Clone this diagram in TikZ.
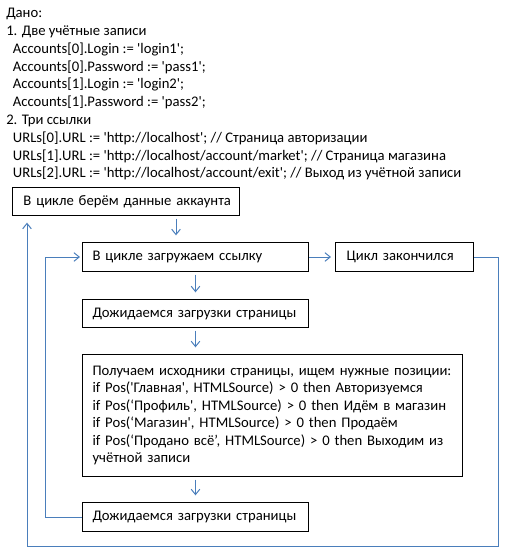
\documentclass[tikz,border=0pt]{standalone}
\usepackage{fontspec}
\setmainfont{Carlito}[Ligatures=TeXOff]
\usetikzlibrary{arrows.meta, positioning}
\definecolor{flowblue}{RGB}{74, 126, 187}
\tikzset{
  stepbox/.style={draw=black, line width=0.75pt, anchor=north west, align=left, inner xsep=7.5pt, inner ysep=0pt, font=\fontsize{11}{13.1}\selectfont},
  giventext/.style={anchor=north west, align=left, inner sep=0pt, font=\fontsize{11}{13.35}\selectfont},
  arr/.style={-{Straight Barb[length=4pt, width=6.5pt]}, line width=0.75pt, flowblue, shorten >=3pt}
}

\begin{document}
\begin{tikzpicture}[x=0.75pt, y=-0.75pt]
\useasboundingbox (0,0) rectangle (508,557);
\node[giventext] (given) at (6,8) {Дано:\\
1. Две учётные записи\\
\hspace*{5pt}Accounts[0].Login := 'login1';\\
\hspace*{5pt}Accounts[0].Password := 'pass1';\\
\hspace*{5pt}Accounts[1].Login := 'login2';\\
\hspace*{5pt}Accounts[1].Password := 'pass2';\\
2. Три ссылки\\
\hspace*{5pt}URLs[0].URL := 'http://localhost'; // Страница авторизации\\
\hspace*{5pt}URLs[1].URL := 'http://localhost/account/market'; // Страница магазина\\
\hspace*{5pt}URLs[2].URL := 'http://localhost/account/exit'; // Выход из учётной записи};
\node[stepbox, inner xsep=8.25pt, text width=153.75pt, minimum height=21pt] (b1) at (12,187) {\mbox{В цикле берём данные аккаунта}};
\node[stepbox, text width=154.5pt, minimum height=21.75pt] (b2) at (82,242) {В цикле загружаем ссылку};
\node[stepbox, inner xsep=8.25pt, text width=87pt, minimum height=21.75pt, right=19.5pt of b2] (b3) {Цикл закончился};
\node[stepbox, text width=154.5pt, minimum height=21pt, below=20.25pt of b2.south west, anchor=north west] (b4) {Дожидаемся загрузки страницы};
\node[stepbox, text width=270pt, minimum height=91.5pt, below=19.5pt of b4.south west, anchor=north west] (b5) {Получаем исходники страницы, ищем нужные позиции:\\
if Pos('Главная', HTMLSource) > 0 then Авторизуемся\\
if Pos(‘Профиль', HTMLSource) > 0 then Идём в магазин\\
if Pos(‘Магазин', HTMLSource) > 0 then Продаём\\
if Pos(‘Продано всё’, HTMLSource) > 0 then Выходим из\\
учётной записи};
\node[stepbox, text width=154.5pt, minimum height=21.75pt, below=18.75pt of b5.south west, anchor=north west] (b6) {Дожидаемся загрузки страницы};
\coordinate (b1out) at ([xshift=-48pt]b1.south east);
\coordinate (b1in) at ([xshift=11.25pt]b1.south west);
\coordinate (loopcorner) at (498,546);
% main chain
\draw[arr, shorten <=2pt, shorten >=5pt] (b1out) -- (b1out |- b2.north);
\draw[arr, shorten <=2pt, shorten >=5pt] (b2) -- (b4);
\draw[arr, shorten <=2pt, shorten >=5pt] (b4.south) -- (b4.south |- b5.north);
\draw[arr, shorten <=2pt, shorten >=5pt] (b6.north |- b5.south) -- (b6.north);
\draw[arr] (b2) -- (b3);
% loops back
\draw[arr, shorten >=1.5pt] (b6.west) -- ++(-37,0) |- (b2.west);
\draw[arr, shorten >=5pt] (b3.east) -| (loopcorner) -| (b1in);
\end{tikzpicture}
\end{document}
